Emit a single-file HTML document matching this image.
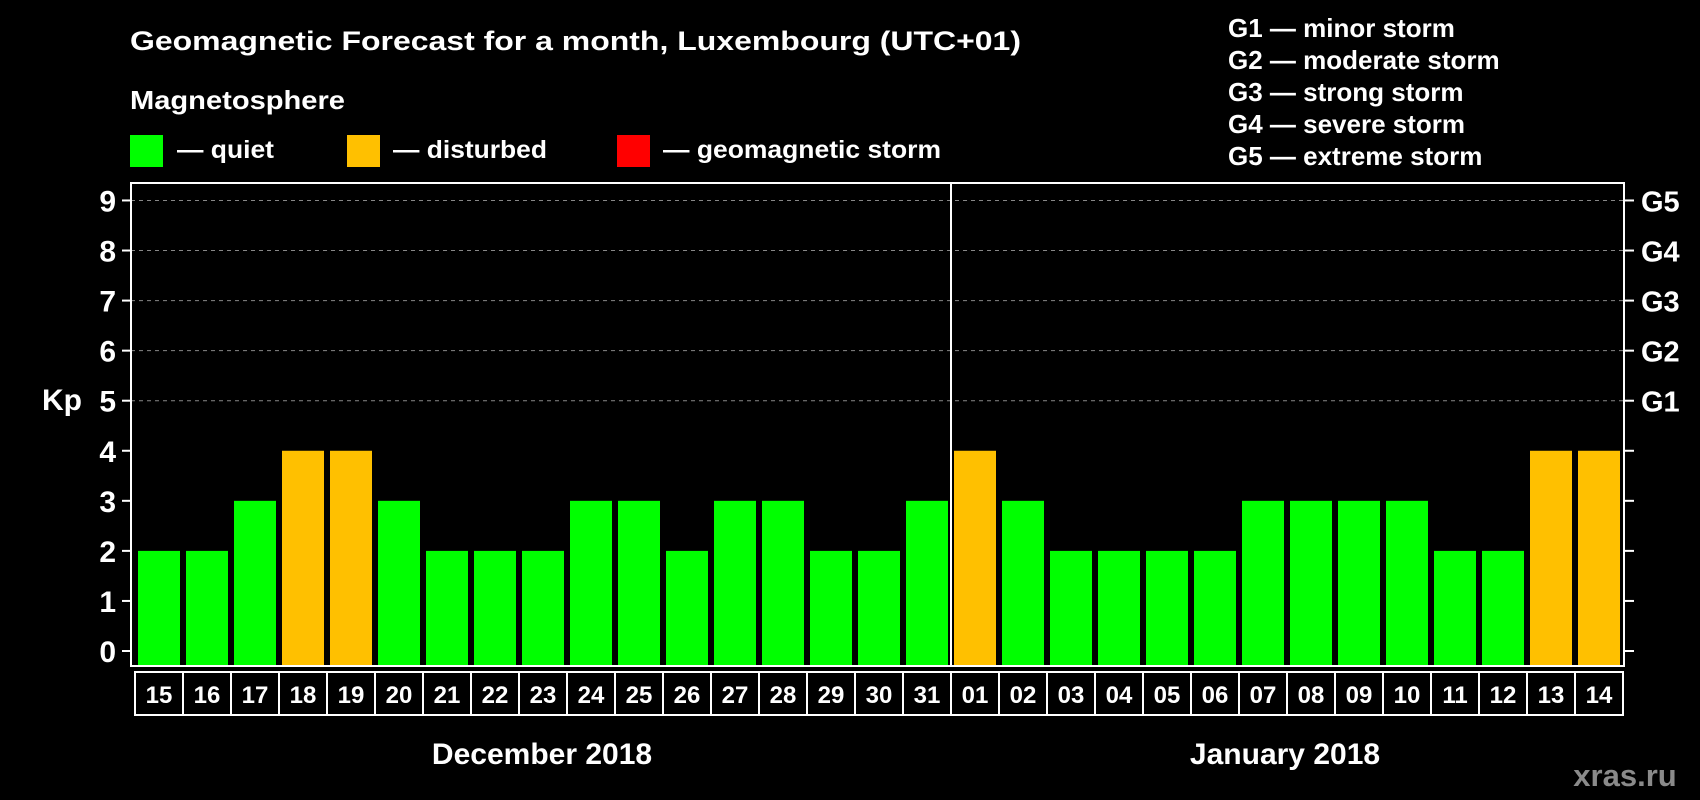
<!DOCTYPE html>
<html><head><meta charset="utf-8"><style>
html,body{margin:0;padding:0;background:#000;}
svg{display:block;font-family:"Liberation Sans",Arial,sans-serif;font-weight:bold;}
</style></head><body>
<svg id="chart" width="1700" height="800" viewBox="0 0 1700 800">
<rect width="1700" height="800" fill="#000"/>
<text x="130" y="50" fill="#fff" font-size="27" textLength="891" lengthAdjust="spacingAndGlyphs">Geomagnetic Forecast for a month, Luxembourg (UTC+01)</text>
<text x="130" y="109" fill="#fff" font-size="26" textLength="215" lengthAdjust="spacingAndGlyphs">Magnetosphere</text>
<g>
<rect x="130" y="135" width="33" height="32" fill="#00ff00"/>
<text x="177" y="158" fill="#fff" font-size="25" textLength="97" lengthAdjust="spacingAndGlyphs">— quiet</text>
<rect x="347" y="135" width="33" height="32" fill="#ffc000"/>
<text x="393" y="158" fill="#fff" font-size="25" textLength="154" lengthAdjust="spacingAndGlyphs">— disturbed</text>
<rect x="617" y="135" width="33" height="32" fill="#ff0000"/>
<text x="663" y="158" fill="#fff" font-size="25" textLength="278" lengthAdjust="spacingAndGlyphs">— geomagnetic storm</text>
</g>
<g fill="#fff" font-size="26">
<text x="1228" y="37">G1 — minor storm</text>
<text x="1228" y="69">G2 — moderate storm</text>
<text x="1228" y="101">G3 — strong storm</text>
<text x="1228" y="133">G4 — severe storm</text>
<text x="1228" y="165">G5 — extreme storm</text>
</g>
<text x="42" y="410" fill="#fff" font-size="30">Kp</text>
<g id="plot"></g>
<text x="542" y="764" fill="#fff" font-size="30" text-anchor="middle">December 2018</text>
<text x="1285" y="764" fill="#fff" font-size="30" text-anchor="middle">January 2018</text>
<text x="1625" y="786" fill="#8a8a8a" font-size="31" text-anchor="middle">xras.ru</text>
</svg>
<script>
const days = ["15","16","17","18","19","20","21","22","23","24","25","26","27","28","29","30","31","01","02","03","04","05","06","07","08","09","10","11","12","13","14"];
const kpValues = [2,2,3,4,4,3,2,2,2,3,3,2,3,3,2,2,3,4,3,2,2,2,2,3,3,3,3,2,2,4,4];
const yTicks = [0,1,2,3,4,5,6,7,8,9];
const gLabels = ["G1","G2","G3","G4","G5"];
const monthSplitIndex = 17;

const NS = "http://www.w3.org/2000/svg";
const plot = document.getElementById("plot");
const L = 131, R = 1624, T = 183, B = 666;
const y0 = 651, unit = 50.06;
const pitch = 48, barW = 42, firstX = 138;
const yScale = v => y0 - v * unit;
const xScale = i => firstX + i * pitch;
function mk(tag, attrs) { const e = document.createElementNS(NS, tag); for (const k in attrs) e.setAttribute(k, attrs[k]); plot.appendChild(e); return e; }
function color(v) { return v >= 5 ? "#ff0000" : (v >= 4 ? "#ffc000" : "#00ff00"); }

yTicks.forEach(t => {
  const y = yScale(t);
  if (t >= 5) {
    const g = mk("line", {x1: L, x2: R, y1: y, y2: y, stroke: "#888", "stroke-width": 1, "stroke-dasharray": "4,4"});
    
    
  }
  const tl = mk("line", {x1: L - 9, x2: L, y1: y, y2: y, stroke: "#fff", "stroke-width": 2});
  
  
  const tr = mk("line", {x1: R, x2: R + 10, y1: y, y2: y, stroke: "#fff", "stroke-width": 2});
  
  
  const lab = mk("text", {x: 116, y: y + 11, fill: "#fff", "font-size": 30, "text-anchor": "end"});
  lab.textContent = t;
  
  
});
gLabels.forEach((g, i) => {
  const lab = mk("text", {x: 1641, y: yScale(5 + i) + 11, fill: "#fff", "font-size": 29});
  lab.textContent = g;
  
  
});
kpValues.forEach((v, i) => {
  const b = mk("rect", {x: xScale(i), y: yScale(v), width: barW, height: B - yScale(v), fill: color(v)});
  
  
  const box = mk("rect", {x: xScale(i) - 3, y: 672, width: pitch, height: 43, fill: "none", stroke: "#fff", "stroke-width": 2});
  
  
  const t = mk("text", {x: xScale(i) + barW / 2, y: 703, fill: "#fff", "font-size": 24, "text-anchor": "middle"});
  t.textContent = days[i];
  
  
});
const frame = mk("rect", {x: L, y: T, width: R - L, height: B - T, fill: "none", stroke: "#fff", "stroke-width": 2});


const sx = xScale(monthSplitIndex) - 3;
const div = mk("line", {x1: sx, x2: sx, y1: T, y2: B, stroke: "#fff", "stroke-width": 2});


</script>
</body></html>
